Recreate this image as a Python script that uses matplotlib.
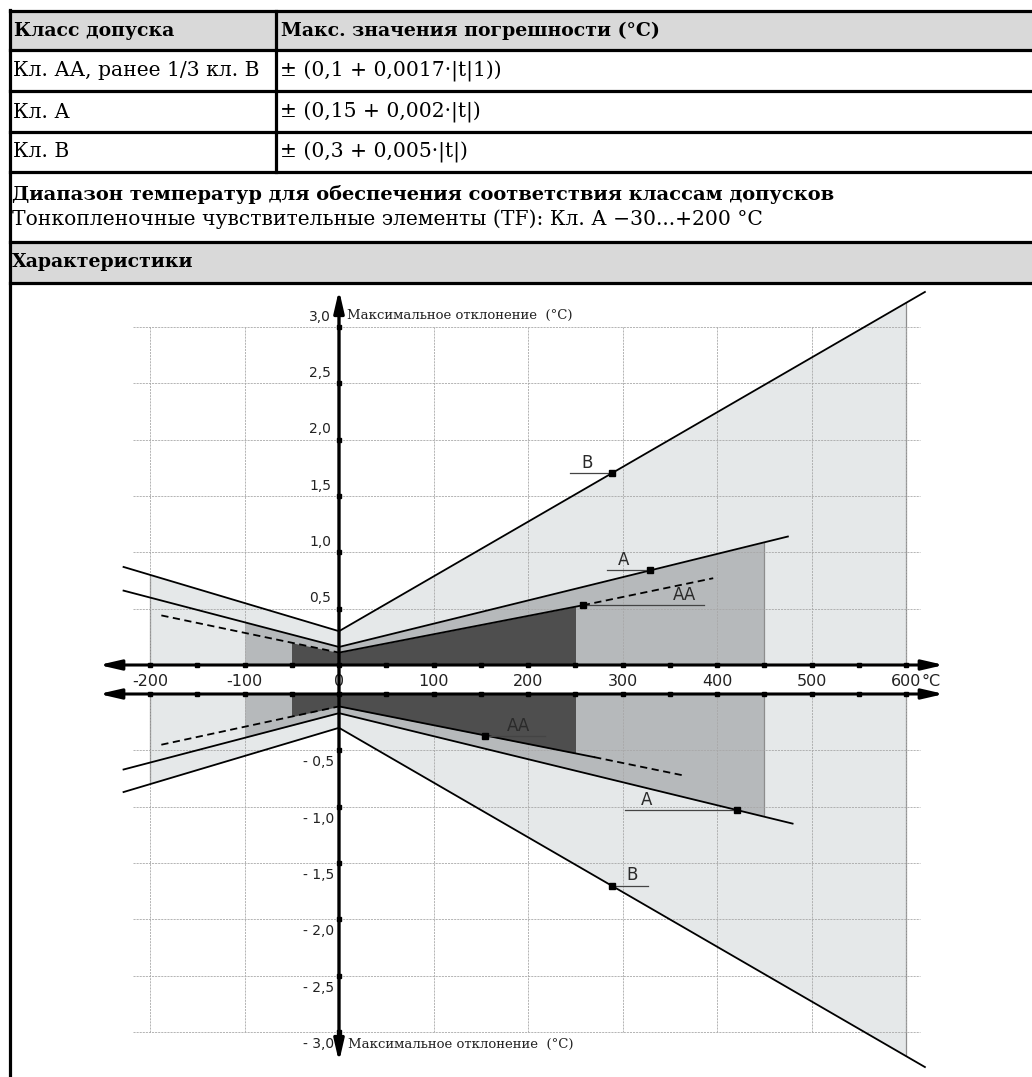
import numpy as np
import matplotlib
matplotlib.use("Agg")
import matplotlib.pyplot as plt
from matplotlib.patches import Rectangle
from matplotlib.lines import Line2D

W, H = 1032, 1077

# --- table texts
header = ["Класс допуска", "Макс. значения погрешности (°C)"]
classes = ["Кл. АА, ранее 1/3 кл. В", "Кл. А", "Кл. В"]
formulas = ["± (0,1 + 0,0017·|t|1))", "± (0,15 + 0,002·|t|)", "± (0,3 + 0,005·|t|)"]
range_title = "Диапазон температур для обеспечения соответствия классам допусков"
range_text = "Тонкопленочные чувствительные элементы (TF): Кл. А −30...+200 °C"
chart_title = "Характеристики"

# --- chart axes
x_ticks = [-200, -100, 0, 100, 200, 300, 400, 500, 600]
x_minor = list(range(-200, 601, 50))
y_ticks = [0.5, 1.0, 1.5, 2.0, 2.5, 3.0]
y_labels = ["0,5", "1,0", "1,5", "2,0", "2,5", "3,0"]
axis_label = "Максимальное отклонение  (°C)"

# --- limit lines (t in °C, deviation in °C)
b_up_t = [-228, 0, 620]
b_up_v = [0.87, 0.30, 3.31]
a_up_t = [-228, 0, 475]
a_up_v = [0.66, 0.16, 1.14]
aa_up_t = [-188, 0, 258, 396]
aa_up_v = [0.44, 0.11, 0.53, 0.77]

b_lo_t = [-228, 0, 620]
b_lo_v = [-0.87, -0.30, -3.31]
a_lo_t = [-228, 0, 480]
a_lo_v = [-0.67, -0.17, -1.15]
aa_lo_t = [-188, 0, 270, 363]
aa_lo_v = [-0.45, -0.11, -0.56, -0.72]
aa_styles = ["--", "-", "--"]

# validity ranges (shaded areas)
b_range = (-200, 600)
a_range = (-100, 450)
aa_range = (-50, 250)

# marker points on the lines
up_marks = [("B", 289, 1.70), ("A", 329, 0.84), ("AA", 258, 0.53)]
lo_marks = [("AA", 154, -0.37), ("A", 421, -1.03), ("B", 289, -1.70)]
# label layout: underline start, underline end, text centre (°C)
up_layout = [(244, 289, 263), (284, 329, 301), (258, 386, 366)]
lo_layout = [(154, 218, 190), (303, 421, 325), (289, 327, 310)]

LIGHT, MID, DARK = "#e5e8e9", "#b6b9bb", "#4e4e4e"
GRID = "#a8a8a8"
EDGE = "#8d8d8d"
SERIF = "DejaVu Serif"
SANS = "DejaVu Sans"

fig = plt.figure(figsize=(W / 100, H / 100), dpi=100)


def fx(x):
    return x / W


def fy(y):
    return 1 - y / H


# ---------------- table
for y0, y1 in [(11, 50), (242, 283)]:
    fig.add_artist(Rectangle((fx(10), fy(y1)), 1 - fx(10), fy(y0) - fy(y1),
                             transform=fig.transFigure, color="#d9d9d9", zorder=0))
for y in [11, 50, 91, 132, 172, 242, 283]:
    fig.add_artist(Line2D([fx(10), 1], [fy(y), fy(y)], lw=2.3, color="black"))
fig.add_artist(Line2D([fx(10), fx(10)], [fy(10), 0], lw=2.3, color="black"))
fig.add_artist(Line2D([fx(276), fx(276)], [fy(11), fy(172)], lw=2.3, color="black"))

fb, fr = 13.6, 14.6
fig.text(fx(14), fy(31), header[0], fontsize=fb, fontweight="bold", family=SERIF, va="center")
fig.text(fx(281), fy(31), header[1], fontsize=fb, fontweight="bold", family=SERIF, va="center")
for i, yc in enumerate([71, 112, 152]):
    fig.text(fx(13), fy(yc), classes[i], fontsize=fr, family=SERIF, va="center")
    fig.text(fx(280), fy(yc), formulas[i], fontsize=fr, family=SERIF, va="center")
fig.text(fx(12), fy(194), range_title, fontsize=14, fontweight="bold", family=SERIF, va="center")
fig.text(fx(12), fy(219), range_text, fontsize=fr, family=SERIF, va="center")
fig.text(fx(12), fy(262), chart_title, fontsize=fb, fontweight="bold", family=SERIF, va="center")

# ---------------- chart: two half-planes with a gap for the x labels
X0, SX = 339, 0.945          # px of 0 °C, px per °C
Y_UP, Y_LO, SY = 665, 694, 112.7
L, R, T, B = 95, 965, 285, 1077


def t_of(px):
    return (px - X0) / SX


ax_lo = fig.add_axes([fx(L), fy(B), fx(R) - fx(L), fy(Y_LO) - fy(B)])
ax_lo.set_xlim(t_of(L), t_of(R))
ax_lo.set_ylim(-(B - Y_LO) / SY, 0)
ax_up = fig.add_axes([fx(L), fy(Y_UP), fx(R) - fx(L), fy(T) - fy(Y_UP)])
ax_up.set_xlim(t_of(L), t_of(R))
ax_up.set_ylim(0, (Y_UP - T) / SY)
for ax in (ax_lo, ax_up):
    ax.axis("off")


def shade(ax, t, v, rng, color, z, sign, edges=()):
    poly = ax.fill_between(t, 0, v, color=color, lw=0, zorder=z)
    poly.set_clip_path(Rectangle((rng[0], -5), rng[1] - rng[0], 10, transform=ax.transData))
    # thin outline of the vertical borders, cut to the area under the line
    for x in edges:
        ln, = ax.plot([x, x], [0, sign * 5], color=EDGE, lw=0.9, zorder=z + 0.05)
        ln.set_clip_path(poly.get_paths()[0], ax.transData)


def half(ax, sign, b_t, b_v, a_t, a_v, aa_t, aa_v, marks, layout):
    shade(ax, b_t, b_v, b_range, LIGHT, 1, sign, edges=b_range)
    shade(ax, a_t, a_v, a_range, MID, 1.1, sign, edges=(a_range[1],))
    for y in y_ticks:
        ax.plot([-218, 615], [sign * y] * 2, color=GRID, lw=0.6, ls=(0, (2.5, 1.2)), zorder=1.5)
    for x in x_ticks:
        if x:
            ax.plot([x, x], [0, sign * 3.0], color=GRID, lw=0.6, ls=(0, (2.5, 1.2)), zorder=1.5)
    shade(ax, aa_t, aa_v, aa_range, DARK, 2, sign)

    ax.plot(b_t, b_v, color="black", lw=1.3, zorder=3)
    ax.plot(a_t, a_v, color="black", lw=1.3, zorder=3)
    for i, st in enumerate(aa_styles):
        ax.plot(aa_t[i:i + 2], aa_v[i:i + 2], color="black", lw=1.3, ls=st,
                dashes=(4, 2.5) if st == "--" else (None, None), zorder=3)

    for (name, tm, vm), (u0, u1, xt) in zip(marks, layout):
        ax.plot([u0, u1], [vm, vm], color="#444444", lw=0.9, zorder=3)
        ax.plot([tm], [vm], "s", ms=4.5, color="black", zorder=4)
        ax.text(xt, vm + 0.01, name, ha="center", va="bottom", fontsize=12,
                family=SANS, color="#2a2a2a", zorder=4)

    # x axis with arrows and tick dots
    ax.annotate("", xy=(t_of(944), 0), xytext=(t_of(99), 0),
                arrowprops=dict(arrowstyle="<|-|>,head_length=1.3,head_width=0.3",
                                color="black", lw=2.2, shrinkA=0, shrinkB=0),
                annotation_clip=False, zorder=5)
    ax.plot(x_minor, [0] * len(x_minor), "s", ms=3, color="black", clip_on=False, zorder=5)
    ax.plot([0] * len(y_ticks), [sign * y for y in y_ticks], "s", ms=3.5,
            color="black", clip_on=False, zorder=5)


half(ax_up, 1, b_up_t, b_up_v, a_up_t, a_up_v, aa_up_t, aa_up_v, up_marks, up_layout)
half(ax_lo, -1, b_lo_t, b_lo_v, a_lo_t, a_lo_v, aa_lo_t, aa_lo_v, lo_marks, lo_layout)

# vertical axis crossing both halves
ax_up.annotate("", xy=(0, (Y_UP - 290) / SY), xytext=(0, (Y_UP - 1062) / SY),
               arrowprops=dict(arrowstyle="<|-|>,head_length=1.3,head_width=0.3",
                               color="black", lw=2.4, shrinkA=0, shrinkB=0),
               annotation_clip=False, zorder=6)

# tick labels
v_gap = (Y_UP - 681) / SY
for x in x_ticks:
    ax_up.text(x, v_gap, f"{x}", ha="center", va="center", fontsize=11.5,
               family=SANS, color="#222222", clip_on=False)
ax_up.text(600 + 16 / SX, v_gap, "°C", ha="left", va="center", fontsize=11.5,
           family=SANS, color="#222222", clip_on=False)
for y, lab in zip(y_ticks, y_labels):
    ax_up.text(t_of(331), y + 0.03, lab, ha="right", va="bottom", fontsize=10,
               family=SANS, color="#222222")
    ax_lo.text(t_of(334), -y - 0.045, "- " + lab, ha="right", va="top", fontsize=10,
               family=SANS, color="#222222")

ax_up.text(t_of(347), 3.1, axis_label, ha="left", va="center", fontsize=9.5,
           family=SERIF, color="#222222")
ax_lo.text(t_of(348), -3.11, axis_label, ha="left", va="center", fontsize=9.5,
           family=SERIF, color="#222222")

fig.savefig("out.png", dpi=100)
